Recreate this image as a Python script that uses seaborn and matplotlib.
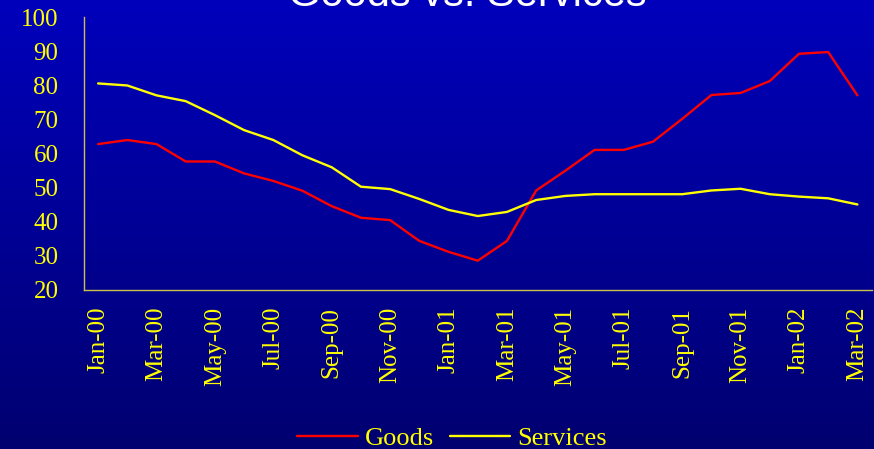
import numpy as np
import pandas as pd
import matplotlib
matplotlib.use("Agg")
import matplotlib.pyplot as plt
from matplotlib.lines import Line2D
import seaborn as sns

months = ["Jan-00", "Feb-00", "Mar-00", "Apr-00", "May-00", "Jun-00", "Jul-00",
          "Aug-00", "Sep-00", "Oct-00", "Nov-00", "Dec-00", "Jan-01", "Feb-01",
          "Mar-01", "Apr-01", "May-01", "Jun-01", "Jul-01", "Aug-01", "Sep-01",
          "Oct-01", "Nov-01", "Dec-01", "Jan-02", "Feb-02", "Mar-02"]

goods = [62.8, 64.0, 62.8, 57.7, 57.7, 54.2, 52.0, 49.1, 44.6, 41.2, 40.5,
         34.4, 31.2, 28.6, 34.4, 49.2, 55.0, 61.1, 61.1, 63.5, 70.2, 77.2,
         77.8, 81.3, 89.3, 89.8, 77.1]

services = [80.6, 80.0, 77.1, 75.4, 71.3, 66.9, 64.0, 59.5, 56.0, 50.3, 49.6,
            46.7, 43.5, 41.7, 42.9, 46.4, 47.6, 48.1, 48.1, 48.1, 48.1, 49.2,
            49.7, 48.1, 47.4, 46.9, 45.1]

y_ticks = [20, 30, 40, 50, 60, 70, 80, 90, 100]
title = "Goods vs. Services"

pos = np.arange(len(months))
df = pd.DataFrame({
    "pos": np.concatenate([pos, pos]),
    "value": goods + services,
    "series": ["Goods"] * len(goods) + ["Services"] * len(services),
})

sns.set_theme(style="white")
plt.rcParams["font.family"] = ["Liberation Serif", "DejaVu Serif"]

fig = plt.figure(figsize=(8.74, 4.49), dpi=100)

# vertical blue gradient behind everything
bg = fig.add_axes([0, 0, 1, 1], zorder=-10)
top = np.array([0x00, 0x00, 0xBC]) / 255
bottom = np.array([0x00, 0x00, 0x70]) / 255
t = np.linspace(0, 1, 256)[:, None]
grad = (top[None, :] * (1 - t) + bottom[None, :] * t)[:, None, :]
bg.imshow(grad, aspect="auto", extent=[0, 1, 0, 1])
bg.set_axis_off()

ax = fig.add_axes([83.5 / 874, 1 - 290 / 449, (872 - 83.5) / 874, (290 - 17.3) / 449])
ax.set_facecolor("none")

sns.lineplot(data=df, x="pos", y="value", hue="series",
             palette={"Goods": "#FF0000", "Services": "#FFFF00"},
             linewidth=1.7, ax=ax, legend=False)

ax.set_xlim(-0.5, len(months) - 0.5)
ax.set_ylim(20, 100)
ax.set_yticks(y_ticks)
ax.set_yticklabels([str(v) for v in y_ticks])
ax.set_xticks(pos[::2])
ax.set_xticklabels(months[::2], rotation=90)
ax.set_xlabel("")
ax.set_ylabel("")
ax.grid(False)

ax.tick_params(axis="y", length=0, pad=18, labelsize=18, colors="#FFFF00")
ax.tick_params(axis="x", length=0, pad=12, labelsize=18, colors="#FFFF00")
for lab in ax.get_xticklabels():
    lab.set_verticalalignment("top")

for side in ("top", "right"):
    ax.spines[side].set_visible(False)
for side in ("left", "bottom"):
    ax.spines[side].set_color("#C8C050")
    ax.spines[side].set_linewidth(1.0)

fig.text(467 / 874, 1 - 6 / 449, title, color="white", fontsize=30,
         family=["Liberation Sans", "DejaVu Sans"], ha="center", va="baseline")

handles = [Line2D([], [], color="#FF0000", lw=1.7),
           Line2D([], [], color="#FFFF00", lw=1.7)]
leg = fig.legend(handles, ["Goods", "Services"], loc="center",
                 bbox_to_anchor=(452 / 874, 1 - 438 / 449), ncol=2,
                 frameon=False, fontsize=19, handlelength=2.3,
                 handletextpad=0.25, columnspacing=0.6,
                 borderaxespad=0, borderpad=0)
for txt in leg.get_texts():
    txt.set_color("#FFFF00")

fig.savefig("out.png", dpi=100)
